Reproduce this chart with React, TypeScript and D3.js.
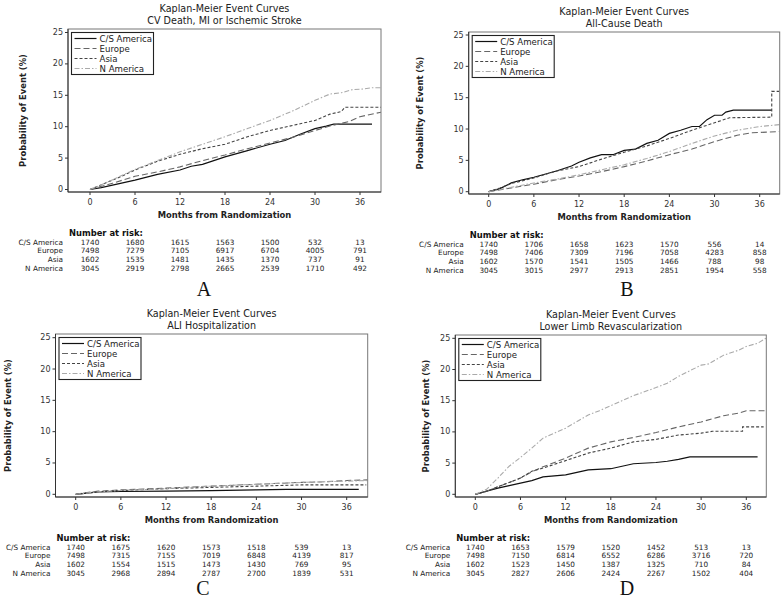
import React from "react";
import * as d3 from "d3";

// ---------- data ----------
const seriesNames = ["C/S America", "Europe", "Asia", "N America"];
const xTicks = [0, 6, 12, 18, 24, 30, 36];
const yTicks = [0, 5, 10, 15, 20, 25];
const panelTitles = [
  "CV Death, MI or Ischemic Stroke",
  "All-Cause Death",
  "ALI Hospitalization",
  "Lower Limb Revascularization",
];
const panelLetters = ["A", "B", "C", "D"];

// Panel A: CV Death, MI or Ischemic Stroke  [month, %]
const aCS = [[0,0],[1.5,0.3],[3,0.7],[4.5,1.1],[6,1.5],[9,2.4],[12,3.1],[13.5,3.7],[15,4.0],[16.5,4.6],[18,5.2],[21,6.2],[24,7.2],[26,7.8],[28,8.8],[30,9.7],[31.5,10.1],[32.5,10.4],[37.6,10.4]];
const aEU = [[0,0],[3,1.0],[6,2.1],[9,2.8],[12,3.6],[15,4.6],[18,5.5],[21,6.5],[24,7.4],[27,8.3],[30,9.4],[32,10.1],[33,10.4],[34.5,10.8],[36,11.6],[38.8,12.3]];
const aAS = [[0,0],[2,1.0],[4,2.0],[6,3.1],[9,4.5],[12,5.6],[15,6.5],[18,7.2],[21,8.4],[24,9.4],[27,10.2],[30,11.0],[32,12.0],[33.5,12.4],[34,13.1],[38.8,13.1]];
const aNA = [[0,0],[2,1.0],[4,2.1],[6,3.2],[9,4.6],[12,6.0],[15,7.2],[18,8.4],[21,9.7],[24,11.0],[27,12.5],[30,14.2],[32,15.2],[33.5,15.4],[35,15.9],[36.5,16.0],[37.5,16.2],[38.8,16.2]];

// Panel B: All-Cause Death
const bCS = [[0,0],[1.5,0.5],[3,1.4],[4.5,1.9],[6,2.3],[9,3.3],[11,4.1],[12,4.7],[13.5,5.4],[15,5.9],[16.5,5.9],[18,6.6],[19.5,6.8],[21,7.7],[22.5,8.2],[24,9.3],[25.5,9.8],[27,10.4],[28,10.4],[29,11.5],[30,12.2],[31,12.2],[31.5,12.7],[32.5,13.0],[37.6,13.0]];
const bEU = [[0,0],[3,0.6],[6,1.2],[9,1.9],[12,2.5],[15,3.2],[18,4.0],[21,4.9],[24,5.9],[27,6.8],[30,8.0],[33,9.0],[35,9.4],[38.6,9.6]];
const bAS = [[0,0],[1.5,0.6],[3,1.3],[6,2.2],[9,3.3],[12,4.0],[15,5.2],[18,6.3],[21,7.3],[24,8.5],[27,9.8],[30,11.0],[32,11.8],[37.6,11.9],[37.6,16.0],[38.6,16.0]];
const bNA = [[0,0],[3,0.7],[6,1.4],[9,2.0],[12,2.7],[15,3.5],[18,4.3],[21,5.3],[24,6.4],[27,7.7],[30,8.9],[33,9.8],[36,10.4],[38.6,10.7]];

// Panel C: ALI Hospitalization
const cCS = [[0,0],[1.5,0.2],[3,0.4],[6,0.45],[12,0.5],[18,0.6],[24,0.7],[28,0.8],[37.6,0.8]];
const cEU = [[0,0],[1.5,0.3],[3,0.5],[6,0.7],[9,0.85],[12,1.0],[15,1.15],[18,1.3],[21,1.45],[24,1.6],[27,1.75],[30,1.9],[33,2.0],[36,2.2],[38.8,2.3]];
const cAS = [[0,0],[3,0.4],[6,0.6],[12,0.9],[18,1.1],[24,1.3],[30,1.5],[38.6,1.5]];
const cNA = [[0,0],[3,0.4],[6,0.6],[12,0.9],[18,1.3],[24,1.6],[30,1.9],[36,2.1],[38.8,2.2]];

// Panel D: Lower Limb Revascularization
const dCS = [[0,0],[1.5,0.5],[3,1.0],[4.5,1.4],[6,1.8],[7.5,2.2],[9,2.8],[12,3.1],[13.5,3.5],[15,3.9],[18,4.1],[19.5,4.5],[21,4.9],[24,5.1],[25.5,5.3],[27,5.6],[28.5,6.0],[37.5,6.0]];
const dEU = [[0,0],[1.5,0.5],[3,1.2],[4.5,1.9],[6,2.6],[7.5,3.6],[9,4.4],[12,5.8],[15,7.4],[18,8.4],[21,9.1],[24,9.9],[27,10.8],[30,11.6],[33,12.6],[35,13.0],[36,13.4],[38.6,13.4]];
const dAS = [[0,0],[1.5,0.5],[3,1.2],[4.5,1.9],[6,2.6],[7.5,3.7],[9,4.2],[12,5.4],[15,6.6],[18,7.4],[21,8.4],[24,8.8],[27,9.5],[30,9.8],[31.5,10.1],[35.5,10.1],[35.5,10.8],[38.3,10.8]];
const dNA = [[0,0],[1.5,0.8],[3,2.6],[4.5,4.5],[6,5.9],[7.5,7.4],[9,9.0],[10.5,9.8],[12,10.6],[15,12.7],[16.5,13.4],[18,14.2],[21,15.8],[24,17.1],[25.5,17.8],[27,18.9],[30,20.7],[31,20.9],[33,22.3],[35,23.1],[36,23.7],[37.5,24.2],[38.6,25.0]];

// Numbers at risk (rows: C/S America, Europe, Asia, N America)
const riskA = [
  ["1740","1680","1615","1563","1500","532","13"],
  ["7498","7279","7105","6917","6704","4005","791"],
  ["1602","1535","1481","1435","1370","737","91"],
  ["3045","2919","2798","2665","2539","1710","492"],
];
const riskB = [
  ["1740","1706","1658","1623","1570","556","14"],
  ["7498","7406","7309","7196","7058","4283","858"],
  ["1602","1570","1541","1505","1466","788","98"],
  ["3045","3015","2977","2913","2851","1954","558"],
];
const riskC = [
  ["1740","1675","1620","1573","1518","539","13"],
  ["7498","7315","7155","7019","6848","4139","817"],
  ["1602","1554","1515","1473","1430","769","95"],
  ["3045","2968","2894","2787","2700","1839","531"],
];
const riskD = [
  ["1740","1653","1579","1520","1452","513","13"],
  ["7498","7150","6814","6552","6286","3716","720"],
  ["1602","1523","1450","1387","1325","710","84"],
  ["3045","2827","2606","2424","2267","1502","404"],
];

// ---------- layout / style ----------
const FONT = "DejaVu Sans";
const lineStyles = [
  { stroke: "#111", dash: "none", width: 1.2 },
  { stroke: "#666", dash: "6,3", width: 1.1 },
  { stroke: "#444", dash: "3,2", width: 1.1 },
  { stroke: "#aaa", dash: "5,2,1.5,2", width: 1.1 },
];

const layouts = [
  { L: 68, R: 381, T: 29, B: 192, x0: 90, x36: 360, y0: 189.5, y25: 32.5, ylab: 23, letterX: 204, letterY: 296 },
  { L: 468.7, R: 779.7, T: 32, B: 194, x0: 488.7, x36: 759.7, y0: 191.7, y25: 35, ylab: 420, letterX: 627, letterY: 296 },
  { L: 55.5, R: 367.7, T: 334, B: 497, x0: 75.7, x36: 346.7, y0: 494.3, y25: 337.7, ylab: 8, letterX: 203, letterY: 594.5 },
  { L: 455.3, R: 766.3, T: 335, B: 497, x0: 475.3, x36: 746.3, y0: 494.3, y25: 338.3, ylab: 426, letterX: 627, letterY: 594.5 },
];

const panelSeries = [
  [aCS, aEU, aAS, aNA],
  [bCS, bEU, bAS, bNA],
  [cCS, cEU, cAS, cNA],
  [dCS, dEU, dAS, dNA],
];
const panelRisk = [riskA, riskB, riskC, riskD];

function Panel({ idx }: { idx: number }) {
  const lay = layouts[idx];
  const x = d3.scaleLinear().domain([0, 36]).range([lay.x0, lay.x36]);
  const y = d3.scaleLinear().domain([0, 25]).range([lay.y0, lay.y25]);
  const line = d3
    .line<number[]>()
    .x((d) => x(d[0]))
    .y((d) => y(d[1]));
  const cx = (lay.L + lay.R) / 2;
  const cy = (lay.T + lay.B) / 2;
  const lgX = lay.L + 3.5;
  const lgY = lay.T + 3.5;
  return (
    <g fontFamily={FONT}>
      {/* titles */}
      <text x={cx} y={lay.T - 21} textAnchor="middle" dominantBaseline="central" fontSize={9.6} fill="#222">
        Kaplan-Meier Event Curves
      </text>
      <text x={cx} y={lay.T - 9} textAnchor="middle" dominantBaseline="central" fontSize={9.6} fill="#222">
        {panelTitles[idx]}
      </text>
      {/* curves */}
      <clipPath id={`clip${idx}`}>
        <rect x={lay.L} y={lay.T} width={lay.R - lay.L} height={lay.B - lay.T} />
      </clipPath>
      <g clipPath={`url(#clip${idx})`}>
        {panelSeries[idx].map((s, i) => (
          <path
            key={i}
            d={line(s) || ""}
            fill="none"
            stroke={lineStyles[i].stroke}
            strokeWidth={lineStyles[i].width}
            strokeDasharray={lineStyles[i].dash}
          />
        ))}
      </g>
      {/* frame */}
      <rect x={lay.L} y={lay.T} width={lay.R - lay.L} height={lay.B - lay.T} fill="none" stroke="#777" strokeWidth={1} />
      <line x1={lay.L} x2={lay.L} y1={lay.T} y2={lay.B} stroke="#333" />
      <line x1={lay.L} x2={lay.R} y1={lay.B} y2={lay.B} stroke="#333" />
      {/* y axis */}
      {yTicks.map((t) => (
        <g key={t}>
          <line x1={lay.L - 3} x2={lay.L} y1={y(t)} y2={y(t)} stroke="#333" />
          <text x={lay.L - 5} y={y(t)} textAnchor="end" dominantBaseline="central" fontSize={8} fill="#333">
            {t}
          </text>
        </g>
      ))}
      <text
        transform={`translate(${lay.ylab},${cy}) rotate(-90)`}
        textAnchor="middle"
        dominantBaseline="central"
        fontSize={8.4}
        fontWeight="bold"
        fill="#222"
      >
        Probability of Event (%)
      </text>
      {/* x axis */}
      {xTicks.map((t) => (
        <g key={t}>
          <line x1={x(t)} x2={x(t)} y1={lay.B} y2={lay.B + 3} stroke="#333" />
          <text x={x(t)} y={lay.B + 10} textAnchor="middle" dominantBaseline="central" fontSize={8} fill="#333">
            {t}
          </text>
        </g>
      ))}
      <text x={cx} y={lay.B + 23} textAnchor="middle" dominantBaseline="central" fontSize={8.4} fontWeight="bold" fill="#222">
        Months from Randomization
      </text>
      {/* legend */}
      <rect x={lgX} y={lgY} width={82} height={42} fill="white" stroke="#222" strokeWidth={1.1} />
      {seriesNames.map((n, i) => (
        <g key={n}>
          <line
            x1={lgX + 3}
            x2={lgX + 25}
            y1={lgY + 6 + i * 10}
            y2={lgY + 6 + i * 10}
            stroke={lineStyles[i].stroke}
            strokeWidth={lineStyles[i].width}
            strokeDasharray={lineStyles[i].dash}
          />
          <text x={lgX + 28} y={lgY + 6 + i * 10} dominantBaseline="central" fontSize={8.6} fill="#222">
            {n}
          </text>
        </g>
      ))}
      {/* number at risk */}
      <text x={lay.L + 1} y={lay.B + 40.5} dominantBaseline="central" fontSize={8.4} fontWeight="bold" fill="#111">
        Number at risk:
      </text>
      {seriesNames.map((n, r) => (
        <g key={n}>
          <text x={lay.L - 5} y={lay.B + 50 + r * 8.67} textAnchor="end" dominantBaseline="central" fontSize={7.3} fill="#222">
            {n}
          </text>
          {panelRisk[idx][r].map((v, c) => (
            <text key={c} x={x(xTicks[c])} y={lay.B + 50 + r * 8.67} textAnchor="middle" dominantBaseline="central" fontSize={7.3} fill="#222">
              {v}
            </text>
          ))}
        </g>
      ))}
      {/* panel letter */}
      <text x={lay.letterX} y={lay.letterY} textAnchor="middle" fontSize={20} fontFamily="Liberation Serif" fill="#111">
        {panelLetters[idx]}
      </text>
    </g>
  );
}

export default function App() {
  return (
    <svg width={784} height={600} style={{ position: "absolute", left: 0, top: 0, background: "white" }}>
      <rect width={784} height={600} fill="white" />
      {[0, 1, 2, 3].map((i) => (
        <Panel key={i} idx={i} />
      ))}
    </svg>
  );
}
